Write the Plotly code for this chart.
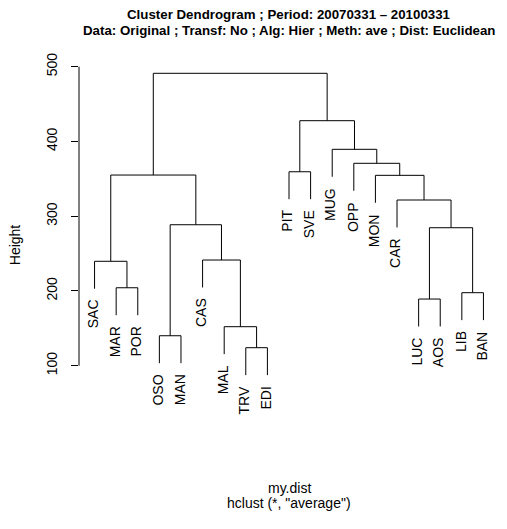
import plotly.graph_objects as go

# ---- data ----
leaf_labels = ["SAC", "MAR", "POR", "OSO", "MAN", "CAS", "MAL", "TRV", "EDI",
               "PIT", "SVE", "MUG", "OPP", "MON", "CAR", "LUC", "AOS", "LIB", "BAN"]
# merges: (left, right) ; negative = leaf index (1-based), positive = earlier merge (1-based)
merge_left = [-8, -4, -7, -16, -18, -2, -1, -6, 4, 2, -15, -14, 7, -10, -13, -12, 14, 13]
merge_right = [-9, -5, 1, -17, -19, -3, 6, 3, 5, 8, 9, 11, 10, -11, 12, 15, 16, 17]
merge_height = [124.1, 140.1, 152.2, 189.2, 197.7, 204.3, 239.7, 241.4, 284.6, 288.6,
                321.7, 354.7, 355.1, 359.5, 370.8, 389.5, 427.8, 491.2]
y_ticks = [100, 200, 300, 400, 500]

title_line1 = "Cluster Dendrogram ; Period: 20070331 \u2013 20100331"
title_line2 = "Data: Original ; Transf: No ; Alg: Hier ; Meth: ave ; Dist: Euclidean"
sub_line1 = "my.dist"
sub_line2 = 'hclust (*, "average")'

# ---- geometry derived from the tree ----
n = len(leaf_labels)
hmax, hmin = max(merge_height), min(merge_height)
hang = 0.1 * (hmax - hmin)
xpad = 0.04 * (n - 1)
xrange = [1 - xpad, n + xpad]
yrange = [14.0, 509.0]   # plot region also holds the hanging labels (as in R)

W, H = 507, 529
M_L, M_R, M_T, M_B = 79, 8, 60, 99
plot_h = H - M_T - M_B


def paper_y(px):
    return 1 + (M_T - px) / plot_h


node_x = {}
xs, ys = [], []
leaf_bottom = {}


def child_xy(c, parent_h):
    if c < 0:
        i = -c
        yb = parent_h - hang
        leaf_bottom[i] = yb
        return float(i), yb
    return node_x[c], merge_height[c - 1]


for k, (a, b, h) in enumerate(zip(merge_left, merge_right, merge_height), start=1):
    xa, ya = child_xy(a, h)
    xb, yb = child_xy(b, h)
    xs += [xa, xa, xb, xb, None]
    ys += [ya, h, h, yb, None]
    node_x[k] = (xa + xb) / 2

FONT = "Liberation Sans, Arial, Helvetica, sans-serif"
FS = 14

fig = go.Figure()
fig.add_trace(go.Scatter(x=xs, y=ys, mode="lines",
                         line=dict(color="#000000", width=1),
                         hoverinfo="skip", showlegend=False))

annotations = []
for i, lab in enumerate(leaf_labels, start=1):
    annotations.append(dict(x=i, y=leaf_bottom[i], xref="x", yref="y", text=lab,
                            textangle=-90, showarrow=False, xanchor="center",
                            yanchor="top", yshift=-9, xshift=-1.5,
                            font=dict(family=FONT, size=FS, color="black")))

for txt, py in [(title_line1, 15), (title_line2, 31)]:
    annotations.append(dict(x=0.5, y=paper_y(py), xref="paper", yref="paper",
                            text="<b>" + txt + "</b>", showarrow=False,
                            xanchor="center", yanchor="middle",
                            font=dict(family=FONT, size=13.3, color="black")))

for txt, py in [(sub_line1, 488), (sub_line2, 503)]:
    annotations.append(dict(x=0.5, y=paper_y(py), xref="paper", yref="paper",
                            text=txt, showarrow=False, xanchor="center", yanchor="middle",
                            font=dict(family=FONT, size=FS, color="black")))

fig.update_layout(
    width=W, height=H,
    margin=dict(l=M_L, r=M_R, t=M_T, b=M_B, pad=0),
    paper_bgcolor="white", plot_bgcolor="white",
    xaxis=dict(range=xrange, visible=False, fixedrange=True),
    yaxis=dict(range=yrange, tickvals=y_ticks, ticktext=[str(v) for v in y_ticks],
               ticks="outside", ticklen=7, tickwidth=1, tickcolor="black",
               showline=False, showgrid=False, zeroline=False, tickangle=-90,
               ticklabelstandoff=8,
               tickfont=dict(family=FONT, size=FS, color="black"),
               title=dict(text="Height", standoff=20,
                          font=dict(family=FONT, size=FS, color="black"))),
    annotations=annotations,
    shapes=[dict(type="line", xref="paper", yref="y", x0=0, x1=0,
                 y0=y_ticks[0], y1=y_ticks[-1], line=dict(color="black", width=1))],
    showlegend=False,
)

fig.write_html("out.html")
